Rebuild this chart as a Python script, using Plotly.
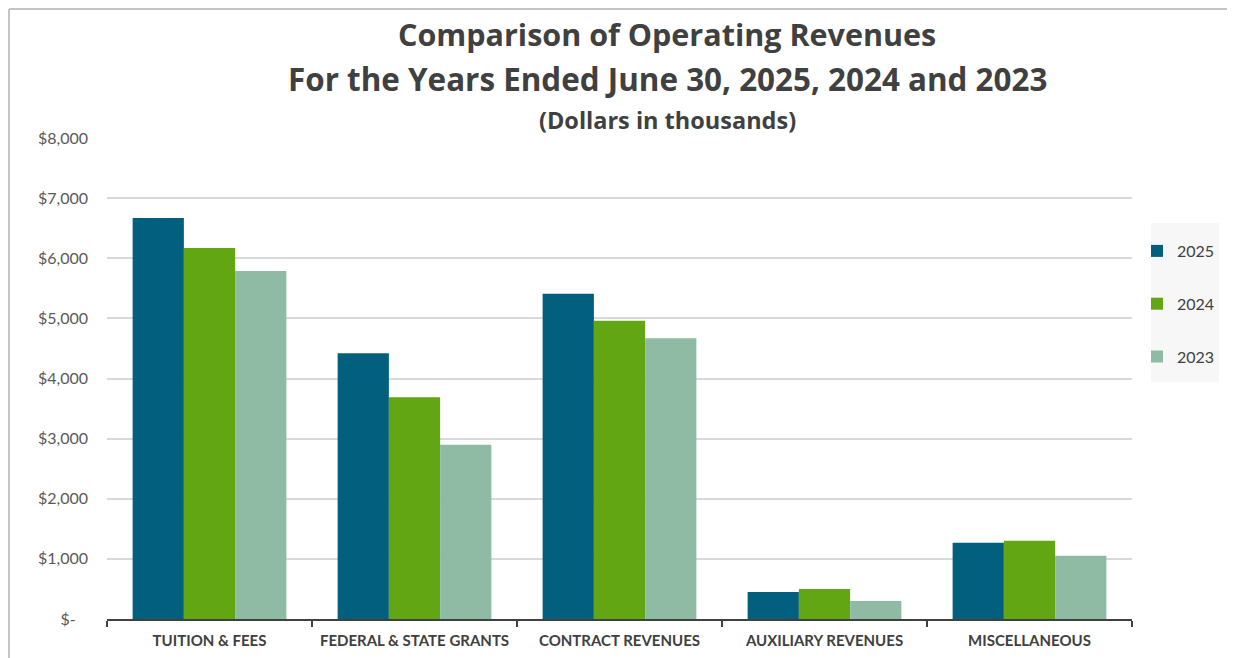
import plotly.graph_objects as go

categories = ["TUITION & FEES", "FEDERAL & STATE GRANTS", "CONTRACT REVENUES",
              "AUXILIARY REVENUES", "MISCELLANEOUS"]
rev_2025 = [6670, 4420, 5410, 450, 1270]
rev_2024 = [6170, 3690, 4960, 500, 1300]
rev_2023 = [5790, 2900, 4670, 300, 1050]
series_names = ["2025", "2024", "2023"]
series_colors = ["#025f7e", "#63a614", "#8fbaa3"]
y_tick_vals = [0, 1000, 2000, 3000, 4000, 5000, 6000, 7000, 8000]
y_tick_text = ["$-\u00a0\u00a0\u00a0", "$1,000", "$2,000", "$3,000", "$4,000",
               "$5,000", "$6,000", "$7,000", "$8,000"]

OFF = 8  # page body margin
W, H = 1235 - OFF, 658 - OFF
L, R, T, B = 107 - OFF, 1132 - OFF, 138 - OFF, 619 - OFF


def px(x):
    return (x - OFF - L) / (R - L)


def py(y):
    return (B - (y - OFF)) / (B - T)


fig = go.Figure()
for name, vals, col in zip(series_names, [rev_2025, rev_2024, rev_2023], series_colors):
    fig.add_trace(go.Bar(x=categories, y=vals, name=name, marker_color=col,
                         marker_line_width=0, legendgroup=name))

fig.update_layout(
    width=W, height=H,
    margin=dict(l=L, r=W - R, t=T, b=H - B, autoexpand=False),
    paper_bgcolor="white", plot_bgcolor="white",
    barmode="group", bargap=0.25, bargroupgap=0,
    font=dict(family="Lato", color="#595959"),
    showlegend=True,
    legend=dict(x=px(1137), y=py(234), xanchor="left", yanchor="top",
                bgcolor="rgba(0,0,0,0)", font=dict(size=16, color="#404040", family="Lato"),
                tracegroupgap=29, itemwidth=30,
                ),
    xaxis=dict(showline=True, linecolor="#404040", linewidth=2,
               ticks="outside", tickson="boundaries", ticklen=6, tickangle=0,
               tickcolor="#404040", tickwidth=2, showgrid=False, ticklabelstandoff=7,
               tickfont=dict(family="Lato", size=15, color="#404040", weight="bold")),
    yaxis=dict(range=[0, 8000], tickvals=y_tick_vals, ticktext=y_tick_text,
               showgrid=True, gridcolor="#d9d9d9", gridwidth=1.5, zeroline=False,
               showline=False, ticks="", ticklabelstandoff=18,
               tickfont=dict(family="Lato", size=16, color="#595959")),
)

title_lines = [
    ("Comparison of Operating Revenues", 34, 30.5),
    ("For the Years Ended June 30, 2025, 2024 and 2023", 78, 31.4),
    ("(Dollars in thousands)", 120, 23.5),
]
for text, yy, size in title_lines:
    fig.add_annotation(text=text, x=px(667), y=py(yy), xref="paper", yref="paper",
                       xanchor="center", yanchor="middle", showarrow=False,
                       font=dict(family="Open Sans", size=size, color="#404040", weight="bold"))

# legend background panel
fig.add_shape(type="rect", xref="paper", yref="paper",
              x0=px(1151), x1=px(1219), y0=py(382), y1=py(223),
              line=dict(width=0), fillcolor="#f7f7f7", layer="below")

# chart border (only left and top edges visible in the reference)
fig.add_shape(type="line", xref="paper", yref="paper",
              x0=px(9), x1=px(9), y0=py(660), y1=py(9),
              line=dict(color="#c4c4c4", width=2), layer="below")
fig.add_shape(type="line", xref="paper", yref="paper",
              x0=px(9), x1=px(1236), y0=py(9), y1=py(9),
              line=dict(color="#c4c4c4", width=2), layer="below")

fig.write_html("out.html", config={"displayModeBar": False})
